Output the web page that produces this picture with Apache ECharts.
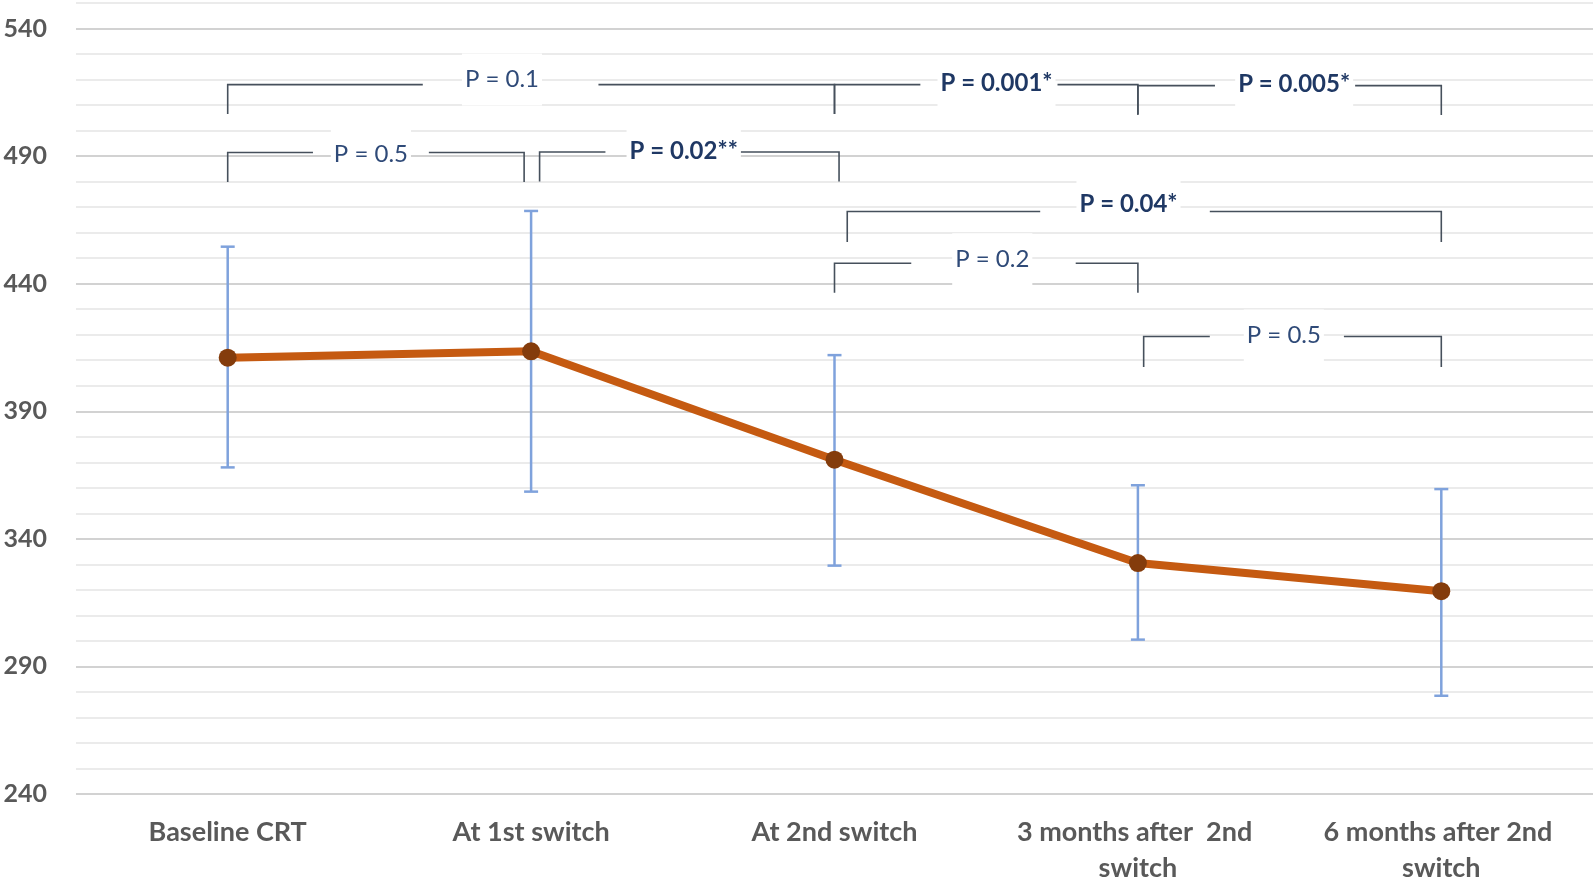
<!DOCTYPE html>
<html><head><meta charset="utf-8">
<script src="https://cdn.jsdelivr.net/npm/echarts@6/dist/echarts.min.js"></script>
<style>html,body{margin:0;padding:0;background:#fff}#c{width:1595px;height:882px}</style>
</head><body><div id="c"></div>
<script>
// ---- data ----
const categories = ['Baseline CRT', 'At 1st switch', 'At 2nd switch', '3 months after  2nd switch', '6 months after 2nd switch'];
const meanValues = [411, 413.5, 371, 330.5, 319.5];
const upperValues = [454.5, 468.5, 412, 361, 359.5];
const lowerValues = [368, 358.5, 329.5, 300.5, 278.5];
const yTickLabels = [240, 290, 340, 390, 440, 490, 540];

// comparison brackets (category units on x, data units on y)
const bracketLabels = ['P = 0.1', 'P = 0.001*', 'P = 0.005*', 'P = 0.5', 'P = 0.02**', 'P = 0.04*', 'P = 0.2', 'P = 0.5'];
const bracketSignificant = [false, true, true, false, true, true, false, false];
const bracketFrom = [0, 2, 3, 0, 1.028, 2.042, 2, 3.019];
const bracketTo = [2, 3, 4, 0.977, 2.015, 4, 3, 4];
const bracketLevel = [518, 518, 517.6, 491.4, 491.6, 468.3, 448, 419.3];
const bracketDrop = [11.5, 11.5, 11.5, 11.6, 11.6, 12, 11.6, 12];
const gapFrom = [0.643, 2.283, 3.254, 0.281, 1.245, 2.678, 2.253, 3.237];
const gapTo = [1.222, 2.735, 3.716, 0.663, 1.690, 3.237, 2.795, 3.679];
const labelAt = [0.904, 2.534, 3.515, 0.472, 1.503, 2.969, 2.520, 3.481];
const labelLevel = [520, 518.4, 518, 490.6, 492, 471, 449.6, 419.7];

// ---- chart ----
const chart = echarts.init(document.getElementById('c'), null, {renderer: 'canvas'});
const FONT = 'Lato, "Open Sans", sans-serif';

function px(api, catPos, val) {
  const base = api.coord([0, val]);
  const band = api.size([1, 0])[0];
  return [base[0] + catPos * band, base[1]];
}

const errData = categories.map((c, i) => [i, lowerValues[i], upperValues[i]]);
const bracketIdx = bracketLabels.map((l, i) => [i, bracketLevel[i]]);

const option = {
  animation: false,
  backgroundColor: '#ffffff',
  grid: {left: 76, right: 2, top: 3, bottom: 88, containLabel: false, outerBoundsMode: 'none'},
  xAxis: {
    type: 'category',
    data: categories,
    boundaryGap: true,
    axisLine: {show: false},
    axisTick: {show: false},
    splitLine: {show: false},
    axisLabel: {
      interval: 0,
      margin: 20,
      color: '#595959',
      fontFamily: FONT,
      fontWeight: 'bold',
      fontSize: 27,
      lineHeight: 36,
      width: 290,
      overflow: 'break'
    }
  },
  yAxis: {
    type: 'value',
    min: 240,
    max: 550,
    interval: 10,
    axisLine: {show: false},
    axisTick: {show: false},
    axisLabel: {
      margin: 29,
      color: '#595959',
      fontFamily: FONT,
      fontWeight: 'bold',
      fontSize: 25,
      formatter: v => (yTickLabels.indexOf(v) >= 0 ? String(v) : '')
    },
    splitLine: {
      show: true,
      lineStyle: {
        width: 2,
        color: ['#d2d2d2', '#ebebeb', '#ebebeb', '#ebebeb', '#ebebeb']
      }
    }
  },
  series: [
    {
      type: 'custom',
      name: 'errorbars',
      z: 2,
      data: errData,
      encode: {x: 0, y: [1, 2]},
      renderItem: function (params, api) {
        const i = api.value(0);
        const lo = api.coord([i, api.value(1)]);
        const hi = api.coord([i, api.value(2)]);
        const cw = 7;
        const st = {stroke: '#7fa2dc', lineWidth: 2.5, fill: null};
        return {
          type: 'group',
          children: [
            {type: 'line', shape: {x1: lo[0], y1: lo[1], x2: hi[0], y2: hi[1]}, style: st},
            {type: 'line', shape: {x1: lo[0] - cw, y1: lo[1], x2: lo[0] + cw, y2: lo[1]}, style: st},
            {type: 'line', shape: {x1: hi[0] - cw, y1: hi[1], x2: hi[0] + cw, y2: hi[1]}, style: st}
          ]
        };
      }
    },
    {
      type: 'line',
      name: 'mean',
      z: 3,
      data: meanValues,
      symbol: 'circle',
      symbolSize: 18,
      itemStyle: {color: '#843c0c'},
      lineStyle: {color: '#c55a11', width: 8}
    },
    {
      type: 'custom',
      name: 'brackets',
      z: 4,
      data: bracketIdx,
      renderItem: function (params, api) {
        const i = params.dataIndex;
        const lv = bracketLevel[i];
        const bt = lv - bracketDrop[i];
        const st = {stroke: '#46505c', lineWidth: 1.6, fill: null};
        const left = [px(api, bracketFrom[i], bt), px(api, bracketFrom[i], lv), px(api, gapFrom[i], lv)];
        const right = [px(api, gapTo[i], lv), px(api, bracketTo[i], lv), px(api, bracketTo[i], bt)];
        return {
          type: 'group',
          children: [
            {type: 'polyline', shape: {points: left}, style: st},
            {type: 'polyline', shape: {points: right}, style: st}
          ]
        };
      }
    },
    {
      type: 'custom',
      name: 'bracketLabels',
      z: 5,
      data: bracketIdx,
      renderItem: function (params, api) {
        const i = params.dataIndex;
        const p = px(api, labelAt[i], labelLevel[i]);
        const sig = bracketSignificant[i];
        return {
          type: 'text',
          x: p[0],
          y: p[1],
          style: {
            text: bracketLabels[i],
            fontFamily: FONT,
            fontSize: 24,
            fontWeight: sig ? 'bold' : 'normal',
            fill: sig ? '#1f3864' : '#2f4a78',
            align: 'center',
            verticalAlign: 'middle',
            backgroundColor: '#ffffff',
            padding: [14, 3]
          }
        };
      }
    }
  ]
};
chart.setOption(option);
</script>
</body></html>
